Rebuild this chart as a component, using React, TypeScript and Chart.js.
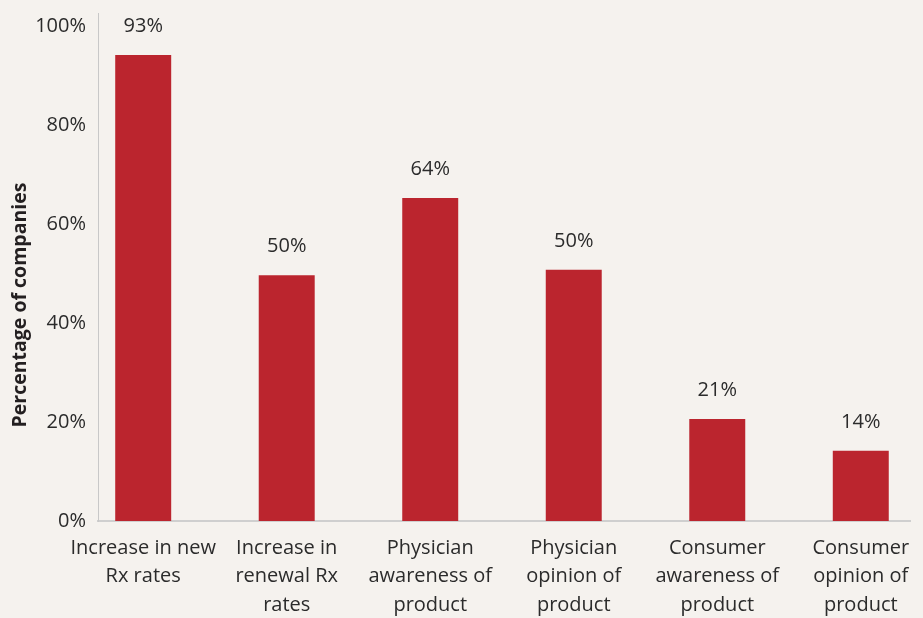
import React, { useEffect, useRef } from "react";
import { Chart, registerables } from "chart.js";

Chart.register(...registerables);

// ---- Data ----
const categories: string[][] = [
  ["Increase in new", "Rx rates"],
  ["Increase in", "renewal Rx", "rates"],
  ["Physician", "awareness of", "product"],
  ["Physician", "opinion of", "product"],
  ["Consumer", "awareness of", "product"],
  ["Consumer", "opinion of", "product"],
];
const barValues = [94.2, 49.7, 65.3, 50.8, 20.6, 14.2];
const valueLabels = ["93%", "50%", "64%", "50%", "21%", "14%"];
const yTicks = [0, 20, 40, 60, 80, 100];
const yTitle = "Percentage of companies";

// ---- Styles ----
const FONT = "'Open Sans', 'Noto Sans', sans-serif";
const TEXT = "#2b2b2b";
const BG = "#f5f2ee";
const BAR = "#bb252e";

const bgPlugin = {
  id: "bg",
  beforeDraw(chart: any) {
    const { ctx, width, height } = chart;
    ctx.save();
    ctx.fillStyle = BG;
    ctx.fillRect(0, 0, width, height);
    ctx.restore();
  },
};

const valueLabelPlugin = {
  id: "valueLabels",
  afterDatasetsDraw(chart: any) {
    const ctx = chart.ctx;
    const meta = chart.getDatasetMeta(0);
    ctx.save();
    ctx.font = `20px ${FONT}`;
    ctx.fillStyle = TEXT;
    ctx.textAlign = "center";
    ctx.textBaseline = "alphabetic";
    meta.data.forEach((bar: any, i: number) => {
      ctx.fillText(valueLabels[i], bar.x, bar.y - 23);
    });
    ctx.restore();
  },
};

const yTitlePlugin = {
  id: "yTitle",
  afterDraw(chart: any) {
    const ctx = chart.ctx;
    const area = chart.chartArea;
    const cy = (area.top + area.bottom) / 2 + 38;
    ctx.save();
    ctx.translate(20, cy);
    ctx.rotate(-Math.PI / 2);
    ctx.font = `bold 19.5px ${FONT}`;
    ctx.fillStyle = "#231f20";
    ctx.textAlign = "center";
    ctx.textBaseline = "middle";
    ctx.fillText(yTitle, 0, 0);
    ctx.restore();
  },
};

export default function App() {
  const ref = useRef<HTMLCanvasElement | null>(null);

  useEffect(() => {
    document.body.style.margin = "0";
    document.body.style.background = BG;
    const canvas = ref.current;
    if (!canvas) return;
    const chart = new Chart(canvas, {
      type: "bar",
      data: {
        datasets: [
          {
            data: barValues.map((v, i) => ({ x: i, y: v })),
            backgroundColor: BAR,
            borderWidth: 0,
            barPercentage: 0.39,
            categoryPercentage: 1,
          },
        ],
      },
      options: {
        animation: false,
        responsive: false,
        devicePixelRatio: 1,
        layout: { padding: { top: 13, right: 13, left: 0, bottom: 0 } },
        plugins: {
          legend: { display: false },
          tooltip: { enabled: false },
        },
        scales: {
          x: {
            type: "linear",
            offset: false,
            min: -0.315,
            max: 5.343,
            grid: { display: false, drawTicks: false, offset: false },
            border: { display: true, color: "#cfcfcf", width: 2 },
            afterBuildTicks: (s: any) => {
              s.ticks = categories.map((_, i) => ({ value: i }));
            },
            afterFit: (s: any) => {
              s.height = 97;
              s.paddingLeft = 0;
              s.paddingRight = 0;
            },
            ticks: {
              autoSkip: false,
              maxRotation: 0,
              minRotation: 0,
              padding: 13,
              color: TEXT,
              font: { family: FONT, size: 20, lineHeight: 1.425 },
              callback: (v: any) => categories[v as number] ?? "",
            },
          },
          y: {
            min: 0,
            max: 102.7,
            grid: { display: false, drawTicks: false },
            border: { display: true, color: "#c8c8c8", width: 1 },
            afterBuildTicks: (s: any) => {
              s.ticks = yTicks.map((v) => ({ value: v }));
            },
            afterFit: (s: any) => {
              s.width = 98;
              s.paddingTop = 0;
              s.paddingBottom = 0;
            },
            ticks: {
              padding: 12,
              color: TEXT,
              font: { family: FONT, size: 20 },
              callback: (v: any) => `${v}%`,
            },
          },
        },
      } as any,
      plugins: [bgPlugin, valueLabelPlugin, yTitlePlugin],
    });
    return () => chart.destroy();
  }, []);

  return (
    <div style={{ width: 923, height: 618 }}>
      <canvas ref={ref} width={923} height={618} style={{ display: "block" }} />
    </div>
  );
}
